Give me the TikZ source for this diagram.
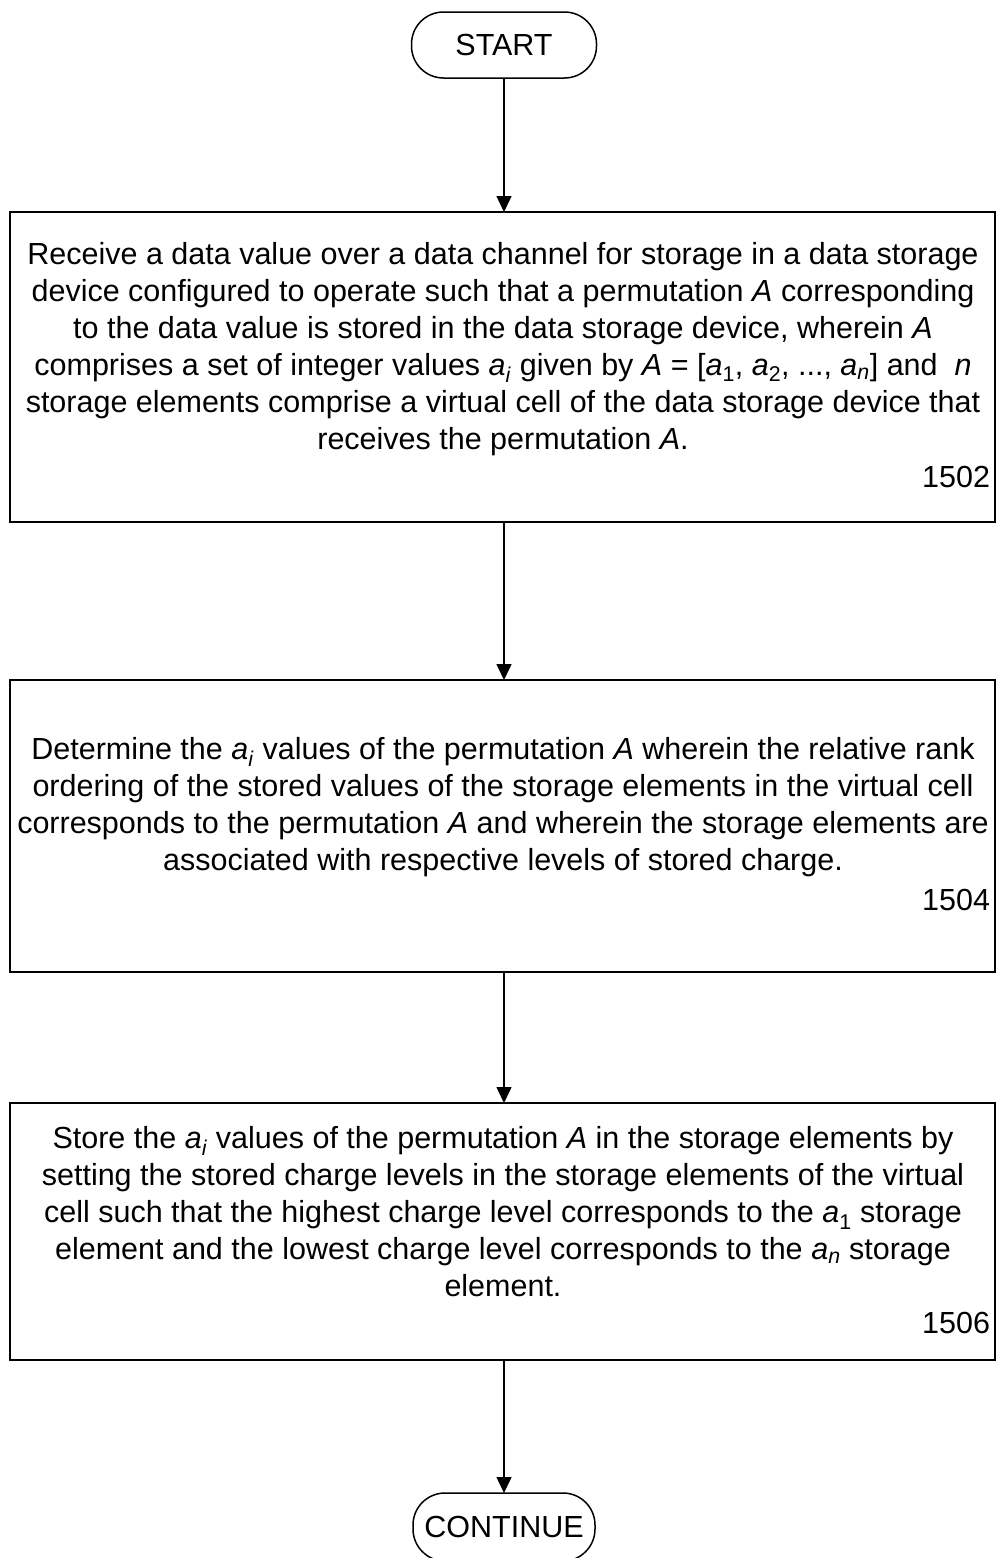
\documentclass[tikz,border=0pt]{standalone}
\usepackage{fontspec}
\setmainfont{Liberation Sans}
\usetikzlibrary{arrows.meta}
\newcommand{\iA}{\textit{A}}
\newcommand{\ia}[1]{\textit{a}\textsubscript{#1}}
\begin{document}
\begin{tikzpicture}[x=1pt,y=-1pt,
  every node/.style={inner sep=0pt, outer sep=0pt, font=\fontsize{30.5}{37}\selectfont},
  stepbox/.style={draw, line width=1.5pt, minimum width=985pt},
  term/.style={draw, line width=1.5pt, rounded corners=32pt, minimum height=66pt},
  steptext/.style={align=center},
  lbl/.style={anchor=east},
  conn/.style={line width=1.5pt, -{Triangle[length=16pt,width=15pt]}}]
\useasboundingbox (0,0) rectangle (997,1558);
\node[term, minimum width=185pt] (start) at (504,45) {START};
\node[stepbox, minimum height=310pt] (b1) at (502.5,367) {};
\node[steptext] (t1) at (503,349) {Receive a data value over a data channel for storage in a data storage\\
device configured to operate such that a permutation \iA{} corresponding\\
to the data value is stored in the data storage device, wherein \iA\\
comprises a set of integer values \ia{\textit{i}} given by \iA{} = [\ia{1}, \ia{2}, ..., \ia{\textit{n}}] and \ \textit{n}\\
storage elements comprise a virtual cell of the data storage device that\\
receives the permutation \iA.};
\node[lbl] (l1) at (990,477) {1502};
\node[stepbox, minimum height=292pt] (b2) at (502.5,826) {};
\node[steptext] (t2) at (503,807) {Determine the \ia{\textit{i}} values of the permutation \iA{} wherein the relative rank\\
ordering of the stored values of the storage elements in the virtual cell\\
corresponds to the permutation \iA{} and wherein the storage elements are\\
associated with respective levels of stored charge.};
\node[lbl] (l2) at (990,900) {1504};
\node[stepbox, minimum height=257pt] (b3) at (502.5,1231.5) {};
\node[steptext] (t3) at (503,1212) {Store the \ia{\textit{i}} values of the permutation \iA{} in the storage elements by\\
setting the stored charge levels in the storage elements of the virtual\\
cell such that the highest charge level corresponds to the \ia{1} storage\\
element and the lowest charge level corresponds to the \ia{\textit{n}} storage\\
element.};
\node[lbl] (l3) at (990,1323) {1506};
\node[term, minimum width=182pt, minimum height=68pt] (cont) at (504,1527) {CONTINUE};
\draw[conn] (start.south -| 504,0) -- (b1.north -| 504,0);
\draw[conn] (b1.south -| 504,0) -- (b2.north -| 504,0);
\draw[conn] (b2.south -| 504,0) -- (b3.north -| 504,0);
\draw[conn] (b3.south -| 504,0) -- (cont.north -| 504,0);
\end{tikzpicture}
\end{document}
